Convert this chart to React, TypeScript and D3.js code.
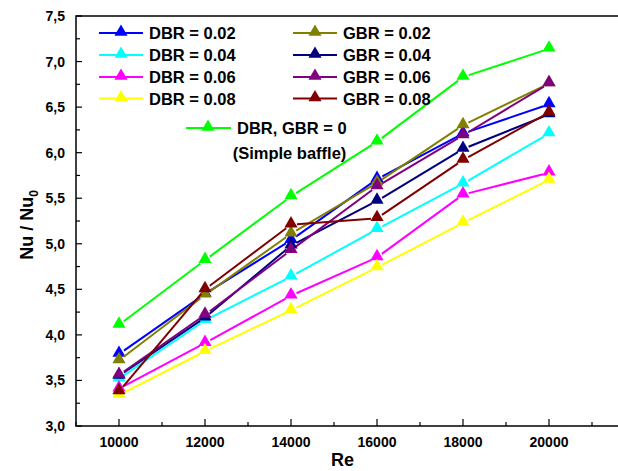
import React, { useEffect, useRef } from 'react';
import * as d3 from 'd3';

const reynolds = [10000, 12000, 14000, 16000, 18000, 20000];

const dbr002 = [3.79, 4.45, 5.04, 5.71, 6.21, 6.53];
const dbr004 = [3.52, 4.16, 4.64, 5.16, 5.66, 6.21];
const dbr006 = [3.41, 3.91, 4.43, 4.85, 5.54, 5.78];
const dbr008 = [3.34, 3.82, 4.27, 4.74, 5.23, 5.70];
const gbr002 = [3.72, 4.44, 5.11, 5.67, 6.30, 6.76];
const gbr004 = [3.55, 4.19, 4.98, 5.47, 6.04, 6.42];
const gbr006 = [3.56, 4.22, 4.93, 5.63, 6.19, 6.76];
const gbr008 = [3.38, 4.50, 5.21, 5.28, 5.92, 6.44];
const simple = [4.11, 4.82, 5.52, 6.12, 6.83, 7.14];

const yTickLabels = ['3,0', '3,5', '4,0', '4,5', '5,0', '5,5', '6,0', '6,5', '7,0', '7,5'];

const App = () => {
  const svgRef = useRef(null);

  useEffect(() => {
    const width = 618;
    const height = 471;
    const margin = { top: 16, left: 76, bottom: 45 };

    const svg = d3.select(svgRef.current)
      .attr('width', width)
      .attr('height', height);
    svg.selectAll('*').remove();

    const font = 'Arial, "Liberation Sans", sans-serif';

    // scales
    const x = d3.scaleLinear().domain([9000, 22000]).range([margin.left, margin.left + 13 * 43]);
    const y = d3.scaleLinear().domain([3, 7.5]).range([height - margin.bottom, margin.top]);

    const series = [
      { name: 'DBR = 0.02', color: '#0000ff', values: dbr002 },
      { name: 'DBR = 0.04', color: '#00ffff', values: dbr004 },
      { name: 'DBR = 0.06', color: '#ff00ff', values: dbr006 },
      { name: 'DBR = 0.08', color: '#ffff00', values: dbr008 },
      { name: 'GBR = 0.02', color: '#808000', values: gbr002 },
      { name: 'GBR = 0.04', color: '#000080', values: gbr004 },
      { name: 'GBR = 0.06', color: '#800080', values: gbr006 },
      { name: 'GBR = 0.08', color: '#800000', values: gbr008 },
      { name: 'DBR, GBR = 0', color: '#00ff00', values: simple },
    ];

    const tri = d3.symbol().type(d3.symbolTriangle).size(75);

    // lines with small gaps at the markers (Origin style)
    const gap = 6;
    series.forEach(s => {
      const pts = s.values.map((v, i) => [x(reynolds[i]), y(v)]);
      const g = svg.append('g');
      for (let i = 0; i < pts.length - 1; i++) {
        const [x1, y1] = pts[i];
        const [x2, y2] = pts[i + 1];
        const len = Math.hypot(x2 - x1, y2 - y1);
        const ux = (x2 - x1) / len;
        const uy = (y2 - y1) / len;
        g.append('line')
          .attr('x1', x1 + ux * gap).attr('y1', y1 + uy * gap)
          .attr('x2', x2 - ux * gap).attr('y2', y2 - uy * gap)
          .attr('stroke', s.color)
          .attr('stroke-width', 2);
      }
      g.selectAll('path')
        .data(pts)
        .enter()
        .append('path')
        .attr('d', tri)
        .attr('transform', d => `translate(${d[0]},${d[1] - 1})`)
        .attr('fill', s.color);
    });

    // frame
    const x0 = x.range()[0];
    const x1 = x.range()[1];
    const y0 = y.range()[0];
    const y1 = y.range()[1];
    svg.append('path')
      .attr('d', `M${x1},${y1}H${x0}V${y0}H${x1}`)
      .attr('fill', 'none')
      .attr('stroke', '#000')
      .attr('stroke-width', 1.5);

    // x ticks (inward)
    const xMinor = d3.range(9000, 22000, 1000);
    svg.append('g').selectAll('line')
      .data(xMinor)
      .enter()
      .append('line')
      .attr('x1', d => x(d)).attr('x2', d => x(d))
      .attr('y1', y0)
      .attr('y2', d => y0 - (d % 2000 === 0 ? 7 : 4))
      .attr('stroke', '#000')
      .attr('stroke-width', 1.2);

    svg.append('g').selectAll('text')
      .data(reynolds)
      .enter()
      .append('text')
      .attr('x', d => x(d))
      .attr('y', y0 + 21)
      .attr('text-anchor', 'middle')
      .attr('font-family', font)
      .attr('font-weight', 'bold')
      .attr('font-size', 14)
      .text(d => d);

    // y ticks (inward)
    const yMinor = d3.range(3, 7.51, 0.25);
    svg.append('g').selectAll('line')
      .data(yMinor)
      .enter()
      .append('line')
      .attr('x1', x0)
      .attr('x2', (d, i) => x0 + (i % 2 === 0 ? 6 : 4))
      .attr('y1', d => y(d)).attr('y2', d => y(d))
      .attr('stroke', '#000')
      .attr('stroke-width', 1.2);

    svg.append('g').selectAll('text')
      .data(yTickLabels)
      .enter()
      .append('text')
      .attr('x', x0 - 11)
      .attr('y', (d, i) => y(3 + i * 0.5) + 5)
      .attr('text-anchor', 'end')
      .attr('font-family', font)
      .attr('font-weight', 'bold')
      .attr('font-size', 14)
      .text(d => d);

    // axis titles
    svg.append('text')
      .attr('x', x(15200))
      .attr('y', 466)
      .attr('text-anchor', 'middle')
      .attr('font-family', font)
      .attr('font-weight', 'bold')
      .attr('font-size', 18)
      .text('Re');

    const yt = svg.append('text')
      .attr('transform', `translate(33,${(y0 + y1) / 2 + 4}) rotate(-90)`)
      .attr('text-anchor', 'middle')
      .attr('font-family', font)
      .attr('font-weight', 'bold')
      .attr('font-size', 18);
    yt.append('tspan').text('Nu / Nu');
    yt.append('tspan').attr('font-size', 12).attr('dy', 5).text('0');

    // legend
    const legend = svg.append('g').attr('font-family', font).attr('font-weight', 'bold').attr('font-size', 16.5);
    const rows = [33, 55, 77, 98.5];
    series.slice(0, 8).forEach((s, i) => {
      const col = i < 4 ? 99 : 293;
      const ly = rows[i % 4];
      legend.append('line')
        .attr('x1', col).attr('x2', col + 44)
        .attr('y1', ly).attr('y2', ly)
        .attr('stroke', s.color).attr('stroke-width', 2);
      legend.append('path')
        .attr('d', tri)
        .attr('transform', `translate(${col + 22},${ly - 1})`)
        .attr('fill', s.color);
      legend.append('text')
        .attr('x', col + 50)
        .attr('y', ly + 6)
        .text(s.name);
    });
    const gs = series[8];
    legend.append('line')
      .attr('x1', 186).attr('x2', 231)
      .attr('y1', 128).attr('y2', 128)
      .attr('stroke', gs.color).attr('stroke-width', 2);
    legend.append('path')
      .attr('d', tri)
      .attr('transform', 'translate(208,127)')
      .attr('fill', gs.color);
    legend.append('text')
      .attr('x', 237)
      .attr('y', 134)
      .text(gs.name);
    legend.append('text')
      .attr('x', 289.5)
      .attr('y', 158.5)
      .attr('text-anchor', 'middle')
      .text('(Simple baffle)');
  }, []);

  return <svg ref={svgRef} style={{ position: 'absolute', left: 0, top: 0, background: '#fff' }}></svg>;
};

export default App;
